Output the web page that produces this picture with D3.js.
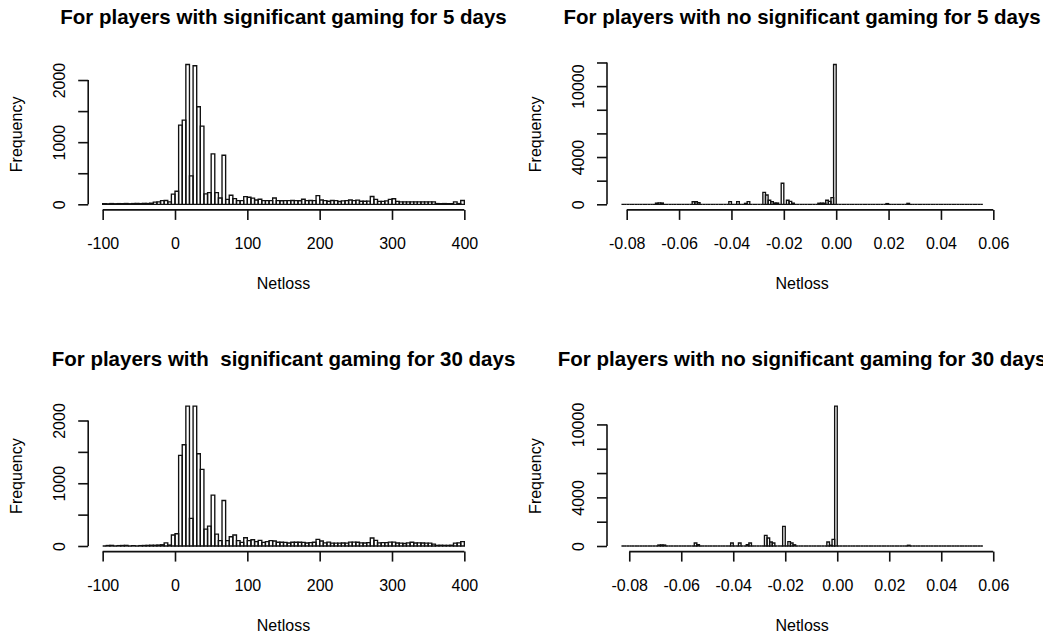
<!DOCTYPE html>
<html>
<head>
<meta charset="utf-8">
<script src="https://cdn.jsdelivr.net/npm/d3@7"></script>
<style>
  body { margin: 0; background: #fff; }
  svg { display: block; }
  text { font-family: "Liberation Sans", Arial, sans-serif; fill: #000; }
</style>
</head>
<body>
<svg id="chart" width="1043" height="634"></svg>
<script>
// ---------------------------------------------------------------
// Netloss histograms, significant gaming: bins of width 5 on [-100, 400]
const sigBinStart = -100;
const sigBinWidth = 5;

const sig5Counts = [
  10, 8, 12, 9, 11, 10, 13, 9, 12, 14, 11, 15, 13, 18,
  35, 38, 60, 62, 40, 165, 210,
  1275, 1355, 2250, 457, 2230, 1570, 1258, 167, 188, 812, 188, 102, 790,
  80, 145, 91, 60, 60, 124,
  113, 100, 70, 82, 60, 60, 60, 102,
  60, 58, 60, 60, 62, 60, 58,
  82, 60, 62, 60, 140,
  70, 60, 50, 62, 60, 45, 55, 60,
  70, 60, 68, 50, 50, 52,
  125, 80, 48, 48, 55, 80, 90, 48,
  40, 40, 38, 40, 40, 38, 40, 40, 38, 40,
  12, 10, 12, 10, 10,
  40, 12, 62
];

const sig30Counts = [
  0, 8, 10, 0, 6, 8, 10, 0, 5, 0, 6, 8, 10, 12,
  12, 15, 20, 50, 15, 175, 195,
  1444, 1614, 2228, 440, 2228, 1470, 1222, 270, 317, 810, 190, 85, 725,
  85, 148, 175, 85, 58, 132,
  85, 100, 70, 90, 58, 70, 85, 80,
  60, 60, 58, 48, 60, 60, 60,
  58, 48, 55, 60, 105,
  80, 50, 62, 45, 45, 45, 48, 45,
  62, 62, 60, 50, 48, 55,
  127, 90, 50, 55, 55, 62, 62, 48,
  45, 40, 50, 60, 48, 50, 48, 45, 45, 30,
  10, 12, 10, 10, 12,
  45, 50, 70
];

// ---------------------------------------------------------------
// No significant gaming: bins of width 0.001; left edges given in thousandths,
// every bin not listed is empty
const noSigBinWidth = 0.001;

const noSig5Range = [-82, 56];
const noSig5BinLeft = [-69, -68, -67, -55, -54, -53, -41, -38, -35, -34,
  -28, -27, -26, -25, -24, -23, -21, -19, -18, -17,
  -7, -6, -5, -4, -3, -2, -1, 19, 27];
const noSig5Freq = [100, 120, 110, 220, 220, 130, 230, 225, 80, 230,
  1010, 790, 340, 225, 110, 110, 1780, 340, 250, 100,
  90, 100, 90, 340, 250, 560, 11830, 60, 80];

const noSig30Range = [-83, 56];
const noSig30BinLeft = [-69, -68, -67, -55, -54, -41, -38, -35, -34,
  -28, -27, -26, -25, -21, -19, -18, -17,
  -4, -3, -2, -1, 27];
const noSig30Freq = [80, 90, 80, 250, 110, 250, 250, 110, 250,
  880, 660, 330, 250, 1620, 360, 250, 100,
  330, 60, 550, 11500, 60];

// ---------------------------------------------------------------
// Axis ticks and the tick labels that are printed
const sigXTicks = [-100, 0, 100, 200, 300, 400];
const sigYTicks = [0, 500, 1000, 1500, 2000];
const sigYLabels = [0, 1000, 2000];

const noSigXTicks = [-0.08, -0.06, -0.04, -0.02, 0.00, 0.02, 0.04, 0.06];
const noSig5YTicks = [0, 2000, 4000, 6000, 8000, 10000, 12000];
const noSig30YTicks = [0, 2000, 4000, 6000, 8000, 10000];
const noSigYLabels = [0, 4000, 10000];

const titles = [
  "For players with significant gaming for 5 days",
  "For players with no significant gaming for 5 days",
  "For players with  significant gaming for 30 days",
  "For players with no significant gaming for 30 days"
];

// ---------------------------------------------------------------
function denseBins(counts, start, width) {
  return counts.map((n, i) => ({ x0: start + i * width, x1: start + (i + 1) * width, n }));
}
function sparseBins(range, lefts, freqs, width) {
  const m = new Map(lefts.map((k, i) => [k, freqs[i]]));
  return d3.range(range[0], range[1]).map(k => ({ x0: k * width, x1: (k + 1) * width, n: m.get(k) || 0 }));
}

const fmt2 = d3.format(".2f");
const panels = [
  { bins: denseBins(sig5Counts, sigBinStart, sigBinWidth), xt: sigXTicks, xf: d => d,
    yt: sigYTicks, yl: sigYLabels, col: 0, row: 0, title: titles[0] },
  { bins: sparseBins(noSig5Range, noSig5BinLeft, noSig5Freq, noSigBinWidth), xt: noSigXTicks,
    xf: d => fmt2(d).replace("−", "-"), yt: noSig5YTicks, yl: noSigYLabels, col: 1, row: 0, title: titles[1] },
  { bins: denseBins(sig30Counts, sigBinStart, sigBinWidth), xt: sigXTicks, xf: d => d,
    yt: sigYTicks, yl: sigYLabels, col: 0, row: 1, title: titles[2] },
  { bins: sparseBins(noSig30Range, noSig30BinLeft, noSig30Freq, noSigBinWidth), xt: noSigXTicks,
    xf: d => fmt2(d).replace("−", "-"), yt: noSig30YTicks, yl: noSigYLabels, col: 1, row: 1, title: titles[3] }
];

// plot regions of the 2 x 2 layout
const cols = [{ left: 88.2, right: 478.8 }, { left: 607, right: 997.3 }];
const rows = [{ top: 58.9, bottom: 209.9 }, { top: 400.6, bottom: 551.6 }];

const svg = d3.select("#chart");
svg.append("rect").attr("width", 1043).attr("height", 634).attr("fill", "#fff");

panels.forEach(p => {
  const { left, right } = cols[p.col];
  const { top, bottom } = rows[p.row];
  const g = svg.append("g");

  // R-style 4% padding around the data range
  const xMin = p.bins[0].x0, xMax = p.bins[p.bins.length - 1].x1;
  const xPad = 0.04 * (xMax - xMin);
  const x = d3.scaleLinear().domain([xMin - xPad, xMax + xPad]).range([left, right]);
  const nMax = d3.max(p.bins, b => b.n);
  const y = d3.scaleLinear().domain([-0.04 * nMax, 1.04 * nMax]).range([bottom, top]);

  // bars (outlined, empty bins collapse into the baseline)
  g.append("g")
    .selectAll("path")
    .data(p.bins)
    .join("path")
    .attr("d", b => `M${x(b.x0)},${y(0)}V${y(b.n)}H${x(b.x1)}V${y(0)}Z`)
    .attr("fill", "none")
    .attr("stroke", "#111")
    .attr("stroke-width", 1.35);

  // x axis
  const xa = g.append("g")
    .attr("transform", `translate(0,${bottom})`)
    .call(d3.axisBottom(x).tickValues(p.xt).tickSize(10).tickSizeOuter(0).tickFormat(p.xf));
  xa.select(".domain").attr("d", `M${x(p.xt[0])},0H${x(p.xt[p.xt.length - 1])}`);
  xa.selectAll("line, .domain").attr("stroke", "#111").attr("stroke-width", 1.6);
  xa.selectAll("text")
    .attr("y", 39).attr("dy", 0)
    .attr("font-size", 16)
    .attr("font-family", "Liberation Sans, Arial, sans-serif")
    .attr("fill", "#111");

  // y axis with rotated labels
  const ya = g.append("g")
    .attr("transform", `translate(${left},0)`)
    .call(d3.axisLeft(y).tickValues(p.yt).tickSize(10).tickSizeOuter(0)
      .tickFormat(d => p.yl.includes(d) ? d : ""));
  ya.select(".domain").attr("d", `M0,${y(p.yt[0])}V${y(p.yt[p.yt.length - 1])}`);
  ya.selectAll("line, .domain").attr("stroke", "#111").attr("stroke-width", 1.6);
  ya.selectAll("text")
    .attr("x", 0).attr("y", 0).attr("dy", 0)
    .attr("transform", "translate(-23,0) rotate(-90)")
    .attr("text-anchor", "middle")
    .attr("font-size", 16)
    .attr("font-family", "Liberation Sans, Arial, sans-serif")
    .attr("fill", "#111");

  // title and axis titles
  g.append("text")
    .attr("x", (left + right) / 2).attr("y", top - 34.9)
    .attr("text-anchor", "middle")
    .attr("font-size", 20.5).attr("font-weight", "bold")
    .style("white-space", "pre")
    .text(p.title);

  g.append("text")
    .attr("x", (left + right) / 2).attr("y", bottom + 79)
    .attr("text-anchor", "middle")
    .attr("font-size", 16).attr("fill", "#111")
    .text("Netloss");

  g.append("text")
    .attr("transform", `translate(${left - 66.5},${(top + bottom) / 2}) rotate(-90)`)
    .attr("text-anchor", "middle")
    .attr("font-size", 16).attr("fill", "#111")
    .text("Frequency");
});
</script>
</body>
</html>
